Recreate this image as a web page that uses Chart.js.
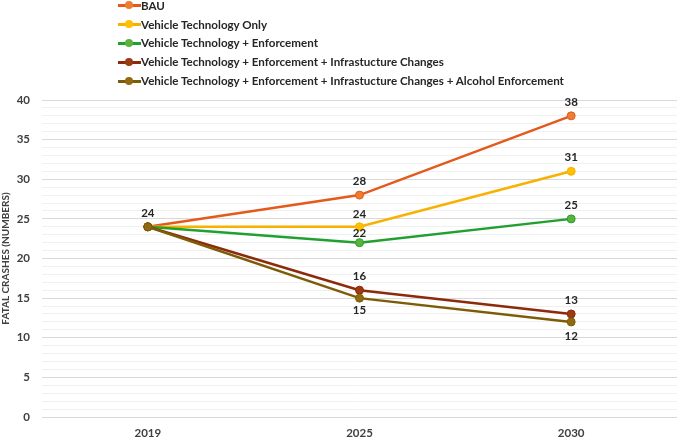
<!DOCTYPE html>
<html>
<head>
<meta charset="utf-8">
<script src="https://cdn.jsdelivr.net/npm/chart.js@4.4.1/dist/chart.umd.min.js"></script>
<style>
  html, body { margin: 0; padding: 0; background: #fff; }
  #wrap { position: relative; width: 685px; height: 437px; }
  #legend { position: absolute; left: 118px; top: -4px; font-family: Lato, "Liberation Sans", sans-serif; font-weight: bold; font-size: 11.6px; color: #262626; }
  .item { height: 18.8px; display: flex; align-items: center; white-space: nowrap; }
  .mk { position: relative; width: 23px; height: 10px; margin-right: 0px; }
  .mk .ln { position: absolute; left: 0; right: 0; top: 4px; height: 3px; }
  .mk .dt { position: absolute; left: 7px; top: 1px; width: 8px; height: 8px; border-radius: 50%; }
</style>
</head>
<body>
<div id="wrap">
  <canvas id="c" width="685" height="437"></canvas>
  <div id="legend"></div>
</div>
<script>
const categories = ['2019', '2025', '2030'];
const seriesNames = [
  'BAU',
  'Vehicle Technology Only',
  'Vehicle Technology + Enforcement',
  'Vehicle Technology + Enforcement + Infrastucture Changes',
  'Vehicle Technology + Enforcement + Infrastucture Changes + Alcohol Enforcement'
];
const bau = [24, 28, 38];
const vehicleOnly = [24, 24, 31];
const vehicleEnf = [24, 22, 25];
const vehicleEnfInfra = [24, 16, 13];
const vehicleEnfInfraAlcohol = [24, 15, 12];
const yTicksMajor = [0, 5, 10, 15, 20, 25, 30, 35, 40];

const lineColors = ['#E35A1C', '#F8B100', '#21A02F', '#8C2A0C', '#7D5C08'];
const pointFills = ['#ED7D31', '#FFC000', '#5BB33C', '#9C3A12', '#8F6A10'];
// label placement per series (style): pixel offset from point (negative = above); null = hidden
const labelOffsets = [
  [-14, -14, -14],
  [null, -13, -14],
  [null, -9, -14],
  [null, -14, -14],
  [null, 12, 14]
];

const allData = [bau, vehicleOnly, vehicleEnf, vehicleEnfInfra, vehicleEnfInfraAlcohol];

const legend = document.getElementById('legend');
seriesNames.forEach((n, i) => {
  const it = document.createElement('div');
  it.className = 'item';
  it.innerHTML = '<span class="mk"><span class="ln" style="background:' + lineColors[i] + '"></span><span class="dt" style="background:' + pointFills[i] + ';"></span></span><span>' + n + '</span>';
  legend.appendChild(it);
});

const labelPlugin = {
  id: 'valLabels',
  afterDatasetsDraw(chart) {
    const ctx = chart.ctx;
    ctx.save();
    ctx.font = 'bold 11.5px Lato, "Liberation Sans", sans-serif';
    ctx.fillStyle = '#262626';
    ctx.textAlign = 'center';
    ctx.textBaseline = 'middle';
    chart.data.datasets.forEach((ds, di) => {
      const meta = chart.getDatasetMeta(di);
      meta.data.forEach((pt, pi) => {
        const off = labelOffsets[di][pi];
        if (off === null) return;
        ctx.fillText(String(ds.data[pi]), pt.x, pt.y + off);
      });
    });
    ctx.restore();
  }
};

const datasets = allData.map((d, i) => ({
  label: seriesNames[i],
  data: d,
  borderColor: lineColors[i],
  backgroundColor: pointFills[i],
  pointBackgroundColor: pointFills[i],
  pointBorderColor: lineColors[i],
  pointBorderWidth: 1,
  pointRadius: 4,
  borderWidth: 2.5,
  tension: 0,
  order: 4 - i
}));

new Chart(document.getElementById('c'), {
  type: 'line',
  data: { labels: categories, datasets },
  options: {
    responsive: false,
    animation: false,
    layout: { padding: { top: 100, right: 8, left: 0, bottom: 0 } },
    plugins: { legend: { display: false }, tooltip: { enabled: false } },
    scales: {
      x: {
        type: 'category',
        offset: true,
        grid: { display: false, drawTicks: false },
        border: { display: false },
        ticks: { color: '#404040', font: { family: 'Lato, "Liberation Sans", sans-serif', weight: 'bold', size: 11.5 }, padding: 9 },
        afterFit(s) { s.height = 20; }
      },
      y: {
        min: 0, max: 40,
        border: { display: false },
        grid: {
          color: (c) => (yTicksMajor.includes(c.tick.value) ? '#D9D9D9' : '#F0F0F0'),
          lineWidth: 1,
          drawTicks: false
        },
        ticks: {
          stepSize: 1,
          autoSkip: false,
          padding: 12,
          color: '#404040',
          font: { family: 'Lato, "Liberation Sans", sans-serif', weight: 'bold', size: 11.5 },
          callback: (v) => (yTicksMajor.includes(v) ? String(v) : '')
        },
        title: {
          display: true,
          text: 'FATAL CRASHES (NUMBERS)',
          color: '#404040',
          padding: 0,
          font: { family: 'Lato, "Liberation Sans", sans-serif', size: 10, weight: 'bold' }
        },
        afterFit(s) { s.width = 42; }
      }
    }
  },
  plugins: [labelPlugin]
});
</script>
</body>
</html>
